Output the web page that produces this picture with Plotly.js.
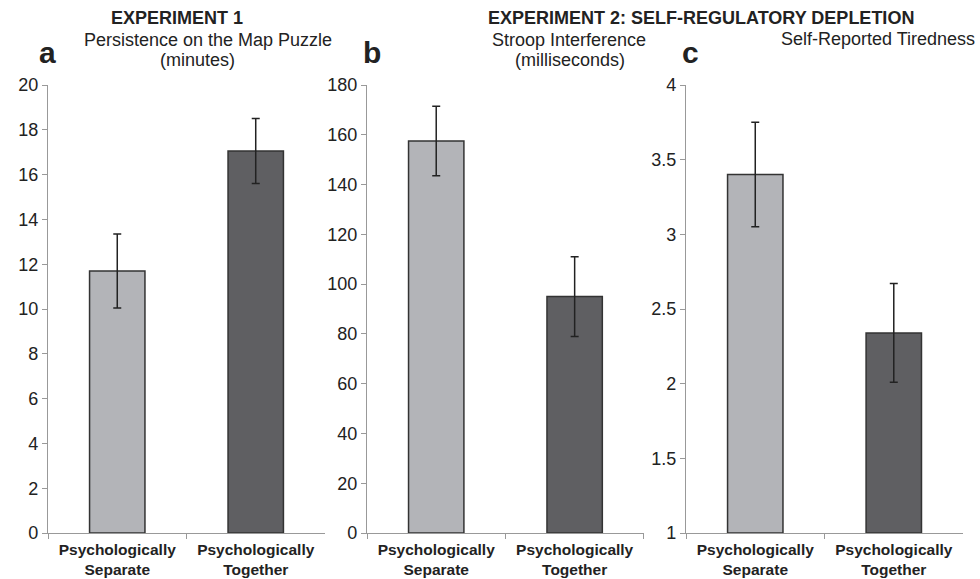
<!DOCTYPE html>
<html><head><meta charset="utf-8">
<script src="https://cdn.plot.ly/plotly-3.0.1.min.js"></script>
<style>html,body{margin:0;padding:0;background:#fff}#chart{width:980px;height:579px}</style>
</head><body><div id="chart"></div>
<script>
const categories = ["Psychologically<br>Separate", "Psychologically<br>Together"];
const persistence = [11.7, 17.05];
const persistenceErr = [1.65, 1.45];
const stroop = [157.5, 95];
const stroopErr = [14, 16];
const tiredness = [3.4, 2.34];
const tirednessErr = [0.35, 0.33];
const barColors = ["#b3b4b8", "#5f5f62"];

function barTrace(vals, errs, xa, ya, base) {
  return {
    type: "bar", x: categories, y: base ? vals.map(v => v - base) : vals, base: base || undefined,
    xaxis: xa, yaxis: ya, width: 0.4,
    marker: {color: barColors, line: {color: "#333", width: 1.5}},
    error_y: {type: "data", array: errs, visible: true, color: "#222", thickness: 1.5, width: 4},
    showlegend: false, hoverinfo: "skip"
  };
}
const traces = [
  barTrace(persistence, persistenceErr, "x", "y"),
  barTrace(stroop, stroopErr, "x2", "y2"),
  barTrace(tiredness, tirednessErr, "x3", "y3", 1)
];
const FF = "Liberation Sans, Arial, sans-serif";
const font = {family: FF, color: "#222"};
function xa(d) {
  return {domain: d, range: [-0.5, 1.5], showline: true, linecolor: "#999", linewidth: 1.2,
    ticks: "outside", tickson: "boundaries", tickcolor: "#999", ticklen: 5, ticklabelstandoff: 2,
    tickfont: {family: FF, size: 15.5, color: "#222", weight: "bold"},
    showgrid: false, zeroline: false, automargin: false, fixedrange: true};
}
function ya(anchor, range, dtick) {
  return {anchor: anchor, range: range, dtick: dtick, showline: true, linecolor: "#999", linewidth: 1.2,
    ticks: "outside", tickcolor: "#999", ticklen: 5, showgrid: false, zeroline: false,
    tickfont: {family: FF, size: 18, color: "#222"}, automargin: false, fixedrange: true};
}
const T = 85, B = 533;
const layout = {
  width: 980, height: 579, margin: {l: 0, r: 0, t: T, b: 579 - B},
  paper_bgcolor: "#fff", plot_bgcolor: "#fff", font: font,
  xaxis: xa([0.049, 0.3316]), yaxis: ya("x", [0, 20], 2),
  xaxis2: xa([0.3745, 0.657]), yaxis2: ya("x2", [0, 180], 20),
  xaxis3: xa([0.7, 0.9827]), yaxis3: ya("x3", [1, 4], 0.5),
  annotations: [
    {text: "<b>EXPERIMENT 1</b>", x: 177, y: 18},
    {text: "<b>EXPERIMENT 2: SELF-REGULATORY DEPLETION</b>", x: 701, y: 18},
    {text: "Persistence on the Map Puzzle", x: 208, y: 39.5},
    {text: "(minutes)", x: 197, y: 59.5},
    {text: "Stroop Interference", x: 569, y: 39.5},
    {text: "(milliseconds)", x: 570, y: 59.5},
    {text: "Self-Reported Tiredness", x: 878, y: 39},
    {text: "<b>a</b>", x: 47, y: 52, size: 30},
    {text: "<b>b</b>", x: 372, y: 52, size: 30},
    {text: "<b>c</b>", x: 690, y: 52, size: 30}
  ].map(a => ({text: a.text, x: a.x / 980, y: (B - a.y) / (B - T), xref: "paper", yref: "paper",
    xanchor: "center", yanchor: "middle", showarrow: false,
    font: {family: FF, size: a.size || 18, color: "#222"}}))
};
Plotly.newPlot("chart", traces, layout, {displayModeBar: false, staticPlot: true});
</script></body></html>
